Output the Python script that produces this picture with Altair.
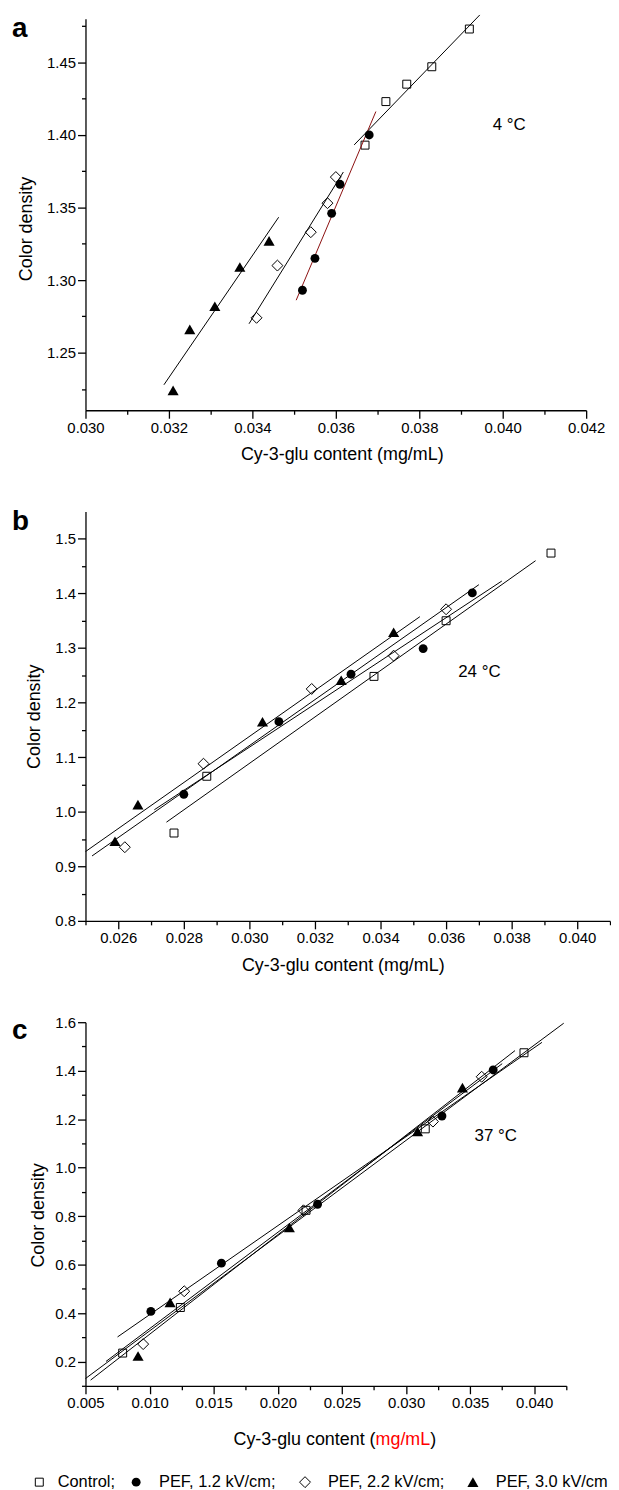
import altair as alt
import pandas as pd

# ---------------- data ----------------
# Panel a (4 °C)
a_ctrl_x = [0.0367, 0.0372, 0.0377, 0.0383, 0.0392]
a_ctrl_y = [1.393, 1.423, 1.435, 1.447, 1.473]
a_p12_x = [0.0352, 0.0355, 0.0359, 0.0361, 0.0368]
a_p12_y = [1.293, 1.315, 1.346, 1.366, 1.400]
a_p22_x = [0.0341, 0.0346, 0.0354, 0.0358, 0.0360]
a_p22_y = [1.274, 1.310, 1.333, 1.353, 1.371]
a_p30_x = [0.0321, 0.0325, 0.0331, 0.0337, 0.0344]
a_p30_y = [1.224, 1.266, 1.282, 1.309, 1.327]

# Panel b (24 °C)
b_ctrl_x = [0.0277, 0.0287, 0.0338, 0.0360, 0.0392]
b_ctrl_y = [0.961, 1.065, 1.248, 1.350, 1.474]
b_p12_x = [0.0280, 0.0309, 0.0331, 0.0353, 0.0368]
b_p12_y = [1.032, 1.165, 1.252, 1.299, 1.401]
b_p22_x = [0.0262, 0.0286, 0.0319, 0.0344, 0.0360]
b_p22_y = [0.935, 1.088, 1.225, 1.286, 1.371]
b_p30_x = [0.0259, 0.0266, 0.0304, 0.0328, 0.0344]
b_p30_y = [0.946, 1.013, 1.165, 1.241, 1.329]

# Panel c (37 °C)
c_ctrl_x = [0.0079, 0.0124, 0.0222, 0.0315, 0.0392]
c_ctrl_y = [0.235, 0.423, 0.824, 1.160, 1.474]
c_p12_x = [0.0101, 0.0156, 0.0231, 0.0328, 0.0368]
c_p12_y = [0.407, 0.606, 0.849, 1.213, 1.403]
c_p22_x = [0.0095, 0.0127, 0.0220, 0.0321, 0.0359]
c_p22_y = [0.272, 0.490, 0.824, 1.190, 1.375]
c_p30_x = [0.0091, 0.0116, 0.0209, 0.0309, 0.0344]
c_p30_y = [0.223, 0.444, 0.753, 1.149, 1.330]

# x-ranges over which the fitted lines are drawn
a_ext = {"ctrl": [0.03644, 0.03945], "p12": [0.03505, 0.03696],
         "p22": [0.03392, 0.03618], "p30": [0.03188, 0.03463]}
b_ext = {"ctrl": [0.02747, 0.03873], "p12": [0.0271, 0.0377],
         "p22": [0.0252, 0.0370], "p30": [0.0250, 0.0352]}
c_ext = {"ctrl": [0.0050, 0.0423], "p12": [0.0075, 0.0406],
         "p22": [0.0066, 0.0375], "p30": [0.0054, 0.0385]}

legend_labels = ["Control;", "PEF, 1.2 kV/cm;", "PEF, 2.2 kV/cm;", "PEF, 3.0 kV/cm"]
temp_labels = ["4 °C", "24 °C", "37 °C"]
panel_letters = ["a", "b", "c"]

FONT = "Liberation Sans"
STYLE = {
    "ctrl": ("square", False, 64),
    "p12": ("circle", True, 80),
    "p22": ("diamond", False, 121),
    "p30": ("triangle-up", True, 125),
}


def ticks(start, stop, step, nd):
    n = int(round((stop - start) / step))
    return [round(start + i * step, nd) for i in range(n + 1)]


def make_axis(values, minor_test, fmt, title, tx, ty, angle):
    kw = dict(
        values=values,
        labelExpr=f"({minor_test}) ? '' : format(datum.value, '{fmt}')",
        tickSize={"condition": {"test": minor_test, "value": 4}, "value": 8},
        labelOverlap=False,
        labelFlush=False,
        grid=False,
    )
    if title is None:
        kw["title"] = None
    else:
        kw.update(title=title, titleX=tx, titleY=ty, titleAlign="center",
                  titleBaseline="middle", titleAngle=angle)
    return alt.Axis(**kw)


def panel(series, xdom, ydom, xaxis, yaxis, w, h, letter, letter_y,
          temp_text, temp_xy, extra=()):
    X = alt.X("x:Q", scale=alt.Scale(domain=xdom, nice=False, zero=False), axis=xaxis)
    Y = alt.Y("y:Q", scale=alt.Scale(domain=ydom, nice=False, zero=False), axis=yaxis)
    layers = []
    for xs, ys, key, ext, col in series:
        df = pd.DataFrame({"x": xs, "y": ys})
        shape, filled, size = STYLE[key]
        layers.append(
            alt.Chart(df).transform_regression("x", "y", extent=ext)
            .mark_line(color=col, strokeWidth=1)
            .encode(x=X, y=Y)
        )
        layers.append(
            alt.Chart(df).mark_point(shape=shape, filled=filled, size=size,
                                     color="black", opacity=1, strokeWidth=1)
            .encode(x=X, y=Y)
        )
    tdf = pd.DataFrame({"x": [temp_xy[0]], "y": [temp_xy[1]], "t": [temp_text]})
    layers.append(
        alt.Chart(tdf).mark_text(align="left", baseline="middle", fontSize=17,
                                 font=FONT, color="black")
        .encode(x=X, y=Y, text="t:N")
    )
    ldf = pd.DataFrame({"t": [letter]})
    layers.append(
        alt.Chart(ldf).mark_text(align="left", baseline="alphabetic", fontSize=28,
                                 fontWeight="bold", font=FONT, color="black")
        .encode(x=alt.value(-74), y=alt.value(letter_y), text="t:N")
    )
    layers.extend(extra)
    return alt.layer(*layers).properties(width=w, height=h)


# ---------------- panel a ----------------
WA, HA = 504, 394
pa = panel(
    [(a_ctrl_x, a_ctrl_y, "ctrl", a_ext["ctrl"], "black"),
     (a_p12_x, a_p12_y, "p12", a_ext["p12"], "#8b1010"),
     (a_p22_x, a_p22_y, "p22", a_ext["p22"], "black"),
     (a_p30_x, a_p30_y, "p30", a_ext["p30"], "black")],
    [0.030, 0.042], [1.2103, 1.48],
    make_axis(ticks(0.030, 0.042, 0.001, 3), "round(datum.value*1000) % 2 != 0", ".3f",
              "Cy-3-glu content (mg/mL)", 258, 45, 0),
    make_axis(ticks(1.225, 1.475, 0.025, 3), "round(datum.value*1000) % 50 != 0", ".2f",
              "Color density", -59, 211, 270),
    WA, HA, panel_letters[0], 18, temp_labels[0], (0.03976, 1.407),
)

# ---------------- panel b ----------------
WB, HB = 528, 412
pb = panel(
    [(b_ctrl_x, b_ctrl_y, "ctrl", b_ext["ctrl"], "black"),
     (b_p12_x, b_p12_y, "p12", b_ext["p12"], "black"),
     (b_p22_x, b_p22_y, "p22", b_ext["p22"], "black"),
     (b_p30_x, b_p30_y, "p30", b_ext["p30"], "black")],
    [0.025, 0.041], [0.8, 1.55],
    make_axis(ticks(0.025, 0.041, 0.001, 3), "round(datum.value*1000) % 2 != 0", ".3f",
              "Cy-3-glu content (mg/mL)", 259, 45, 0),
    make_axis(ticks(0.80, 1.50, 0.05, 2), "round(datum.value*100) % 10 != 0", ".1f",
              "Color density", -51, 206, 270),
    WB, HB, panel_letters[1], 19, temp_labels[1], (0.03637, 1.256),
)

# ---------------- panel c ----------------
WC, HC = 484, 366
c_extra = []
# split x-axis title (unit in red)
for txt, xpos, al, col in [("Cy-3-glu content (", 292, "right", "black"),
                           ("mg/mL", 292, "left", "#ff0000"),
                           (")", 347, "left", "black")]:
    c_extra.append(
        alt.Chart(pd.DataFrame({"t": [txt]}))
        .mark_text(align=al, baseline="middle", fontSize=18, font=FONT, color=col)
        .encode(x=alt.value(xpos), y=alt.value(HC + 55), text="t:N")
    )
# legend row
legend_marker_x = [-46.5, 51, 221, 390]
legend_text_x = [-28, 74, 244, 413]
for key, mx, tx, lab in zip(["ctrl", "p12", "p22", "p30"], legend_marker_x,
                            legend_text_x, legend_labels):
    shape, filled, size = STYLE[key]
    c_extra.append(
        alt.Chart(pd.DataFrame({"k": [0]}))
        .mark_point(shape=shape, filled=filled, size=size, color="black",
                    opacity=1, strokeWidth=1)
        .encode(x=alt.value(mx), y=alt.value(HC + 97))
    )
    c_extra.append(
        alt.Chart(pd.DataFrame({"t": [lab]}))
        .mark_text(align="left", baseline="middle", fontSize=16.5, font=FONT,
                   color="black")
        .encode(x=alt.value(tx), y=alt.value(HC + 97), text="t:N")
    )

pc = panel(
    [(c_ctrl_x, c_ctrl_y, "ctrl", c_ext["ctrl"], "black"),
     (c_p12_x, c_p12_y, "p12", c_ext["p12"], "black"),
     (c_p22_x, c_p22_y, "p22", c_ext["p22"], "black"),
     (c_p30_x, c_p30_y, "p30", c_ext["p30"], "black")],
    [0.005, 0.0425], [0.1, 1.6],
    make_axis(ticks(0.005, 0.0425, 0.0025, 4), "round(datum.value*10000) % 50 != 0", ".3f",
              None, 0, 0, 0),
    make_axis(ticks(0.1, 1.6, 0.1, 1), "round(datum.value*10) % 2 != 0", ".1f",
              "Color density", -47, 194, 270),
    WC, HC, panel_letters[2], 17, temp_labels[2], (0.03534, 1.129), c_extra,
)

chart = (
    alt.vconcat(pa, pb, pc, spacing=102, bounds="flush")
    .properties(padding={"left": 4, "top": 0, "right": 0, "bottom": 0})
    .configure_view(stroke=None)
    .configure_axis(
        domainColor="black", domainWidth=1.3, tickColor="black", tickWidth=1.3,
        labelFont=FONT, labelFontSize=15, labelColor="black", labelPadding=2,
        titleFont=FONT, titleFontSize=18, titleFontWeight="normal", titleColor="black",
    )
)

chart.save("out.html", embed_options={"renderer": "svg", "actions": False})
